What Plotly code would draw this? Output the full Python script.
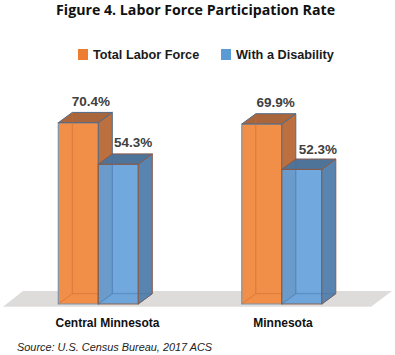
import plotly.graph_objects as go

categories = ["Central Minnesota", "Minnesota"]
series_names = ["Total Labor Force", "With a Disability"]
total_labor = [70.4, 69.9]
with_disability = [54.3, 52.3]
group_pos = [0, 1]
title = "Figure 4. Labor Force Participation Rate"
source = "Source: U.S. Census Bureau, 2017 ACS"

W, H = 395, 355
BW = 0.218      # bar width in x units
DX, DY = 0.0763, 4.0   # 3-D depth in data units
XR = [-0.5357, 1.6169]
YR = [-3.107, 118.06]
LABEL = "Liberation Sans"
PLOT_H = 312


def faces(vals, start):
    side_x, side_y, top_x, top_y, back_x, back_y = [], [], [], [], [], []
    for g, v in zip(group_pos, vals):
        l = g + start
        r = l + BW
        side_x += [r, r + DX, r + DX, r, r, None]
        side_y += [0, DY, v + DY, v, 0, None]
        top_x += [l, l + DX, r + DX, r, l, None]
        top_y += [v, v + DY, v + DY, v, v, None]
        back_x += [l + DX, l + DX, None, l, l + DX, r + DX, None, r, r + DX, None]
        back_y += [v + DY, DY, None, 0, DY, DY, None, 0, DY, None]
    return side_x, side_y, top_x, top_y, back_x, back_y


def add_series(fig, name, vals, start, front, edge, side, top, rim, back, lx, ly, suffix=""):
    xa, ya = "x" + suffix, "y" + suffix
    fig.add_trace(go.Bar(
        x=group_pos, y=vals, width=BW, offset=start, name=name,
        marker=dict(color=front, line=dict(color=edge, width=1.2)),
        xaxis=xa, yaxis=ya, hoverinfo="skip", showlegend=False))
    sx, sy, tx, ty, bx, by = faces(vals, start)
    fig.add_trace(go.Scatter(x=sx, y=sy, mode="lines", fill="toself", fillcolor=side,
                             line=dict(color=rim, width=1), showlegend=False,
                             xaxis=xa, yaxis=ya, hoverinfo="skip"))
    fig.add_trace(go.Scatter(x=tx, y=ty, mode="lines", fill="toself", fillcolor=top,
                             line=dict(color=rim, width=1), showlegend=False,
                             xaxis=xa, yaxis=ya, hoverinfo="skip"))
    fig.add_trace(go.Scatter(x=bx, y=by, mode="lines", line=dict(color=back, width=1),
                             showlegend=False, xaxis=xa, yaxis=ya, hoverinfo="skip"))
    fig.add_trace(go.Scatter(
        x=[g + o for g, o in zip(group_pos, lx)],
        y=[v + o for v, o in zip(vals, ly)],
        text=[f"{v:.1f}%" for v in vals], mode="text", textposition="middle center",
        textfont=dict(family=LABEL, size=13.5, color="#404040", weight="bold"),
        showlegend=False, xaxis=xa, yaxis=ya, hoverinfo="skip"))


fig = go.Figure()
add_series(fig, series_names[0], total_labor, -BW, "#F18E48", "#7C93AC",
           "#BC7040", "#A9663C", "#4F6A88", "rgba(200,105,50,0.55)",
           [-0.04, -0.033], [7.8, 7.8])
add_series(fig, series_names[1], with_disability, 0, "rgba(98,160,218,0.9)", "#85604F",
           "#5884AF", "#4F7499", "#8A5A48", "rgba(70,110,160,0.5)",
           [0.19, 0.197], [8.0, 7.2], suffix="2")


def py(p):
    return (PLOT_H - p) / PLOT_H


def legend_entry(x_swatch, color, text):
    shape = dict(type="rect", xref="paper", yref="paper", layer="above",
                 x0=x_swatch / W, x1=(x_swatch + 10) / W, y0=py(60), y1=py(49),
                 fillcolor=color, line=dict(width=0))
    ann = dict(text=text, xref="paper", yref="paper", x=(x_swatch + 13) / W, xanchor="left",
               y=py(55), yanchor="middle", showarrow=False,
               font=dict(family=LABEL, size=12.7, color="#1a1a1a", weight="bold"))
    return shape, ann


s1, a1 = legend_entry(78, "#ED7D31", series_names[0])
s2, a2 = legend_entry(221, "#5B9BD5", series_names[1])

axis_off = dict(showgrid=False, zeroline=False, showticklabels=False, ticks="", showline=False)
fig.update_layout(
    width=W, height=H, margin=dict(l=0, r=0, t=0, b=H - PLOT_H),
    paper_bgcolor="white", plot_bgcolor="rgba(0,0,0,0)",
    font=dict(family=LABEL, color="#111111"),
    title=dict(text=title, x=0.495, xanchor="center", y=0.972, yanchor="middle",
               font=dict(family="Open Sans", size=14.2, color="#111111", weight="bold")),
    xaxis=dict(range=XR, tickmode="array", tickvals=[0.05, 1.006], ticktext=categories,
               showgrid=False, zeroline=False, showline=False, ticks="", ticklabelstandoff=2,
               tickfont=dict(family=LABEL, size=12, color="#111111", weight="bold")),
    yaxis=dict(range=YR, **axis_off),
    xaxis2=dict(range=XR, overlaying="x", **axis_off),
    yaxis2=dict(range=YR, overlaying="y", **axis_off),
    showlegend=False,
    annotations=[a1, a2, dict(text=source, xref="paper", yref="paper", x=15 / W, xanchor="left",
                      y=py(347), yanchor="middle", showarrow=False,
                      font=dict(family=LABEL, size=10.9, color="#222222", style="italic"))],
    shapes=[s1, s2, dict(type="path", layer="below", xref="paper", yref="y",
                 path=f"M {3/W},{(304-306.7)/2.575} L {23/W},{(304-291)/2.575} "
                      f"L {392/W},{(304-291)/2.575} L {371/W},{(304-306.7)/2.575} Z",
                 fillcolor="#DEDCDA", line=dict(width=0))],
)
fig.write_html("out.html", config=dict(displayModeBar=False),
               post_script="document.body.style.margin='0';document.body.style.overflow='hidden';")
